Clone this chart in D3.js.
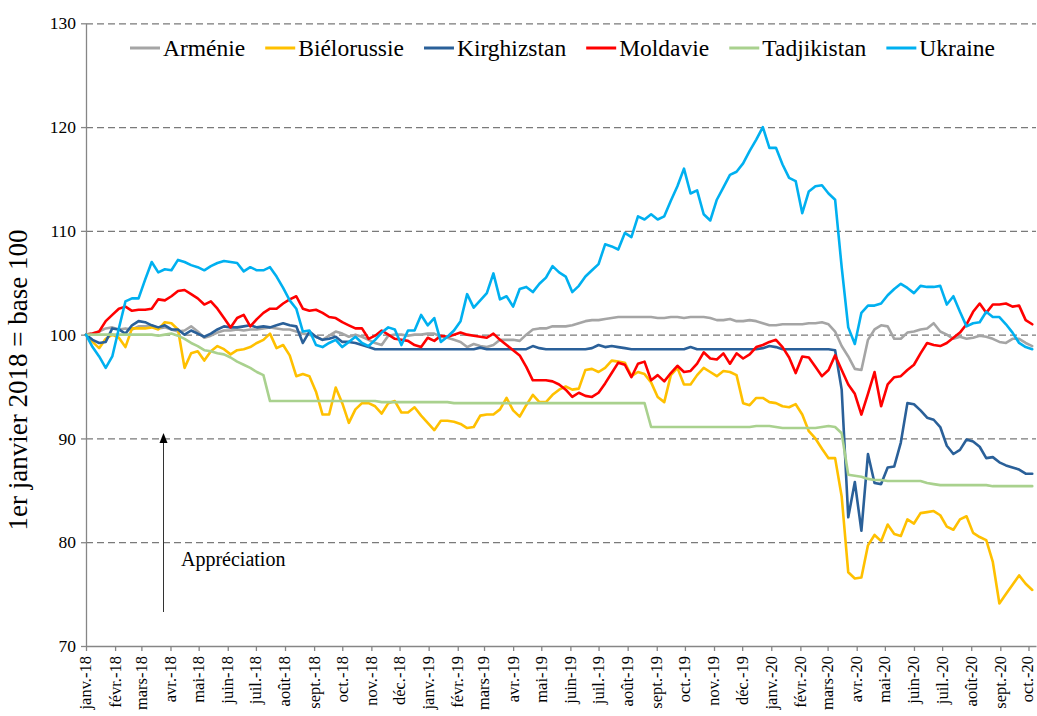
<!DOCTYPE html>
<html>
<head>
<meta charset="utf-8">
<script src="https://cdn.jsdelivr.net/npm/d3@7"></script>
<style>
  body { margin: 0; background: #fff; }
  svg { display: block; }
  svg text { font-family: "Liberation Serif", "Times New Roman", serif !important; }
</style>
</head>
<body>
<svg id="chart" width="1037" height="716"></svg>
<script>
// ---------- DATA ----------
const startDate = "2018-01-01";          // first weekly observation
const endDate = "2020-10-09";            // right end of the axis
const seriesNames = ["Arménie", "Biélorussie", "Kirghizstan", "Moldavie", "Tadjikistan", "Ukraine"];
const monthNames = ["janv.", "févr.", "mars", "avr.", "mai", "juin", "juil.", "août", "sept.", "oct.", "nov.", "déc."];
const yTickValues = [70, 80, 90, 100, 110, 120, 130];
const yTitle = "1er janvier 2018 = base 100";
const noteText = "Appréciation";

const armenie = [
100,100.1,100.3,100.6,100.7,100.5,100.6,100.5,100.8,100.8,
100.9,100.6,100.7,100.5,100.3,100.4,100.8,100.3,99.7,99.9,
100.2,100.4,100.4,100.5,100.4,100.5,100.5,100.6,100.7,100.6,
100.5,100.5,100.3,100.1,100.0,99.8,99.5,99.9,100.3,100.1,
99.8,100.0,99.8,99.5,99.2,99.0,99.9,100.0,100.0,99.9,
100.0,100.0,100.1,100.1,99.8,99.7,99.5,99.3,98.8,99.1,
98.9,98.8,99.0,99.5,99.5,99.5,99.4,100.0,100.5,100.6,
100.6,100.8,100.8,100.8,100.9,101.1,101.3,101.4,101.4,101.5,
101.6,101.7,101.7,101.7,101.7,101.7,101.7,101.6,101.6,101.7,
101.7,101.6,101.7,101.7,101.7,101.6,101.4,101.4,101.5,101.3,
101.3,101.4,101.3,101.1,100.9,100.9,101.0,101.0,101.0,101.0,
101.1,101.1,101.2,101.0,100.3,98.9,97.9,96.7,96.6,99.5,
100.5,100.9,100.8,99.6,99.6,100.2,100.3,100.5,100.6,101.1,
100.3,100.0,99.6,99.8,99.6,99.7,99.9,99.8,99.6,99.3,
99.2,99.6,99.6,99.2,98.9];

const bielorussie = [
100,99.3,98.7,99.6,100.0,99.7,98.8,100.6,100.6,100.6,
100.7,100.5,101.2,101.1,100.5,96.8,98.2,98.4,97.5,98.4,
98.9,98.6,98.1,98.5,98.6,98.8,99.2,99.5,100.1,98.7,
99.0,98.0,96.0,96.2,96.0,94.5,92.3,92.3,94.9,93.4,
91.5,92.8,93.4,93.4,93.1,92.4,93.4,93.6,92.5,92.5,
93.0,92.2,91.5,90.8,91.7,91.7,91.6,91.4,91.0,91.1,
92.2,92.3,92.3,92.8,93.9,92.7,92.1,93.2,94.2,93.5,
93.5,94.2,94.7,95.0,94.7,94.8,96.6,96.7,96.4,96.8,
97.5,97.4,97.3,96.0,96.4,96.2,95.4,94.0,93.5,96.1,
96.8,95.2,95.2,96.1,96.8,96.4,96.0,96.5,96.4,96.1,
93.4,93.2,93.9,93.9,93.5,93.4,93.1,93.0,93.3,92.3,
90.7,90.0,89.0,88.1,88.1,84.4,77.1,76.5,76.6,79.7,
80.7,80.1,81.7,80.8,80.6,82.2,81.8,82.8,82.9,83.0,
82.6,81.5,81.2,82.2,82.5,80.9,80.5,80.2,78.1,74.1,
75.0,75.9,76.8,76.0,75.4];

const kirghizstan = [
100,99.5,99.2,99.3,100.6,100.5,100.1,100.9,101.3,101.2,
100.9,100.7,100.9,100.5,100.5,100.0,100.4,100.1,99.8,100.1,
100.5,100.8,100.7,100.7,100.8,100.9,100.7,100.8,100.7,100.9,
101.1,100.9,100.8,99.2,100.3,99.8,99.5,99.6,99.8,99.3,
99.3,99.2,99.0,98.8,98.6,98.6,98.6,98.6,98.6,98.6,
98.6,98.6,98.6,98.6,98.6,98.6,98.6,98.6,98.6,98.6,
98.75,98.6,98.6,98.6,98.6,98.6,98.6,98.6,98.9,98.7,
98.6,98.6,98.6,98.6,98.6,98.6,98.6,98.7,99.0,98.8,
98.9,98.8,98.7,98.6,98.6,98.6,98.6,98.6,98.6,98.6,
98.6,98.6,98.8,98.6,98.6,98.6,98.6,98.6,98.6,98.6,
98.6,98.6,98.6,98.7,98.9,98.8,98.6,98.6,98.6,98.6,
98.6,98.6,98.6,98.6,98.5,94.7,82.4,85.8,81.1,88.5,
85.7,85.6,87.2,87.3,89.6,93.4,93.3,92.7,92.0,91.8,
91.1,89.3,88.5,88.9,89.9,89.7,89.2,88.1,88.2,87.7,
87.4,87.2,87.0,86.6,86.6];

const moldavie = [
100,100.1,100.3,101.3,101.9,102.5,102.7,102.3,102.4,102.4,
102.5,103.4,103.3,103.7,104.2,104.3,103.9,103.5,102.9,103.2,
102.5,101.6,100.7,101.6,101.9,100.8,101.5,102.1,102.5,102.5,
103.0,103.4,103.7,102.5,102.3,102.4,102.1,101.7,101.6,101.2,
100.9,100.6,100.6,99.6,99.9,100.4,100.0,99.6,99.5,99.4,
99.0,98.8,99.7,99.4,99.9,99.8,100.0,100.2,100.0,99.9,
99.8,99.7,100.1,99.5,99.0,98.5,98.0,96.9,95.6,95.6,
95.6,95.5,95.2,94.7,94.0,94.4,94.1,94.0,94.4,95.3,
96.3,97.3,97.1,95.9,97.2,97.4,95.6,96.1,95.5,96.3,
97.0,96.4,96.5,97.2,98.3,97.7,97.6,98.2,97.2,98.2,
97.7,98.1,98.8,99.0,99.3,99.5,98.8,97.8,96.3,97.9,
97.8,96.9,96.0,96.6,98.0,96.6,95.2,94.3,92.3,94.3,
96.4,93.1,95.2,95.9,96.0,96.6,97.1,98.2,99.2,99.0,
98.9,99.2,99.7,100.2,101.0,102.2,103.0,102.1,102.9,102.9,
103.0,102.7,102.8,101.4,101.0];

const tadjikistan = [
100,100,100,100,100,100,100,100,100,100,
100,99.9,100.0,100.1,99.9,99.6,99.2,98.9,98.5,98.4,
98.2,98.1,97.8,97.4,97.1,96.8,96.4,96.1,93.6,93.6,
93.6,93.6,93.6,93.6,93.6,93.6,93.6,93.6,93.6,93.6,
93.6,93.6,93.6,93.6,93.6,93.5,93.5,93.5,93.5,93.5,
93.5,93.5,93.5,93.5,93.5,93.5,93.4,93.4,93.4,93.4,
93.4,93.4,93.4,93.4,93.4,93.4,93.4,93.4,93.4,93.4,
93.4,93.4,93.4,93.4,93.4,93.4,93.4,93.4,93.4,93.4,
93.4,93.4,93.4,93.4,93.4,93.4,91.1,91.1,91.1,91.1,
91.1,91.1,91.1,91.1,91.1,91.1,91.1,91.1,91.1,91.1,
91.1,91.1,91.2,91.2,91.2,91.1,91.0,91.0,91.0,91.0,
91.0,91.0,91.1,91.2,91.1,90.5,86.5,86.4,86.3,86.1,
86.0,86.0,85.9,85.9,85.9,85.9,85.9,85.9,85.7,85.6,
85.5,85.5,85.5,85.5,85.5,85.5,85.5,85.5,85.4,85.4,
85.4,85.4,85.4,85.4,85.4];

const ukraine = [
100,98.8,97.9,96.8,97.9,100.6,103.2,103.5,103.5,105.3,
107.0,106.0,106.3,106.2,107.2,107.0,106.7,106.5,106.2,106.6,
106.9,107.1,107.0,106.9,106.1,106.5,106.2,106.2,106.5,105.6,
104.5,103.3,102.5,100.3,100.4,99.0,98.8,99.2,99.5,98.8,
99.3,99.8,99.2,98.9,99.5,100.2,100.7,100.5,99.0,100.4,
100.4,101.9,100.9,101.6,99.3,99.8,100.4,101.3,103.9,102.6,
103.3,104.0,105.9,103.4,103.7,102.7,104.4,104.6,104.1,104.9,
105.5,106.6,106.0,105.6,104.1,104.7,105.6,106.2,106.8,108.7,
108.5,108.2,109.8,109.4,111.4,111.1,111.6,111.1,111.4,112.9,
114.3,116.0,113.6,113.9,111.6,111.0,113.0,114.2,115.4,115.7,
116.5,117.7,118.8,120.0,118.0,118.0,116.4,115.1,114.8,111.7,
113.8,114.3,114.4,113.6,113.0,106.5,100.7,99.1,102.1,102.8,
102.8,103.0,103.8,104.4,104.9,104.5,104.0,104.7,104.6,104.6,
104.7,102.9,103.7,102.2,100.8,101.1,101.2,102.2,101.7,101.7,
101.0,100.2,99.2,98.8,98.6];

const seriesValues = [armenie, bielorussie, kirghizstan, moldavie, tadjikistan, ukraine];
const seriesColors = ["#A5A5A5", "#FFC000", "#2A6099", "#FF0000", "#A9D18E", "#00B0F0"];

// ---------- LAYOUT ----------
const svg = d3.select("#chart");
const plot = { left: 86, right: 1036, top: 23.3, bottom: 646 };
const parse = d3.utcParse("%Y-%m-%d");
const t0 = parse(startDate), t1 = parse(endDate);

const x = d3.scaleUtc().domain([t0, t1]).range([plot.left, plot.right]);
const y = d3.scaleLinear().domain([70, 130]).range([plot.bottom, plot.top]);

const axisColor = "#868686";

// gridlines
const grid = svg.append("g").attr("transform", `translate(${plot.left},0)`)
  .call(d3.axisLeft(y).tickValues(yTickValues.filter(v => v > 70))
        .tickSize(-(plot.right - plot.left)).tickFormat(""));
grid.select(".domain").remove();
grid.selectAll("line").attr("stroke", "#7a7a7a").attr("stroke-width", 1.2)
  .attr("stroke-dasharray", "7,4");

// y axis
const yAxis = svg.append("g").attr("transform", `translate(${plot.left},0)`)
  .call(d3.axisLeft(y).tickValues(yTickValues).tickSize(5).tickSizeOuter(0).tickPadding(5));
yAxis.select(".domain").attr("stroke", axisColor).attr("stroke-width", 1.3);
yAxis.selectAll("line").attr("stroke", axisColor).attr("stroke-width", 1.3);
yAxis.selectAll("text").attr("font-size", 17.5).attr("fill", "#000");

// x axis
const months = d3.utcMonth.range(t0, t1);
const fmt = d => monthNames[d.getUTCMonth()] + "-" + String(d.getUTCFullYear()).slice(2);
const xAxis = svg.append("g").attr("transform", `translate(0,${plot.bottom})`)
  .call(d3.axisBottom(x).tickValues(months).tickFormat(fmt).tickSize(5).tickSizeOuter(0));
xAxis.select(".domain").attr("stroke", axisColor).attr("stroke-width", 1.3);
xAxis.selectAll("line").attr("stroke", axisColor).attr("stroke-width", 1.3);
xAxis.selectAll("text")
  .attr("font-size", 16.5).attr("fill", "#000")
  .attr("transform", "rotate(-90)").attr("x", -10).attr("y", 0)
  .attr("dy", (d, i, n) => i === n.length - 1 ? "0.22em" : "0.3em")
  .style("text-anchor", "end");

// lines
const line = d3.line()
  .x((d, i) => x(d3.utcDay.offset(t0, 7 * i)))
  .y(d => y(d));
svg.append("g").selectAll("path").data(seriesValues).join("path")
  .attr("d", d => line(d))
  .attr("fill", "none")
  .attr("stroke", (d, i) => seriesColors[i])
  .attr("stroke-width", 2.6)
  .attr("stroke-linejoin", "round")
  .attr("stroke-linecap", "round");

// legend
const legend = svg.append("g");
let lx = 130;
seriesNames.forEach((name, i) => {
  legend.append("line").attr("x1", lx).attr("x2", lx + 30).attr("y1", 48).attr("y2", 48)
    .attr("stroke", seriesColors[i]).attr("stroke-width", 3);
  const t = legend.append("text").attr("x", lx + 33).attr("y", 56)
    .attr("font-size", 23.5).attr("fill", "#000").text(name);
  lx += 33 + t.node().getComputedTextLength() + 20;
});

// y title
svg.append("text")
  .attr("transform", "translate(27,380) rotate(-90)")
  .attr("text-anchor", "middle").attr("font-size", 27).attr("fill", "#000")
  .text(yTitle);

// annotation arrow
const ax = 163.5;
svg.append("line").attr("x1", ax).attr("x2", ax).attr("y1", 612).attr("y2", 441)
  .attr("stroke", "#333").attr("stroke-width", 1);
svg.append("path").attr("d", `M${ax},433 L${ax - 4},443 L${ax + 4},443 Z`).attr("fill", "#000");
svg.append("text").attr("x", 181).attr("y", 566).attr("font-size", 20).attr("fill", "#000").text(noteText);
</script>
</body>
</html>
